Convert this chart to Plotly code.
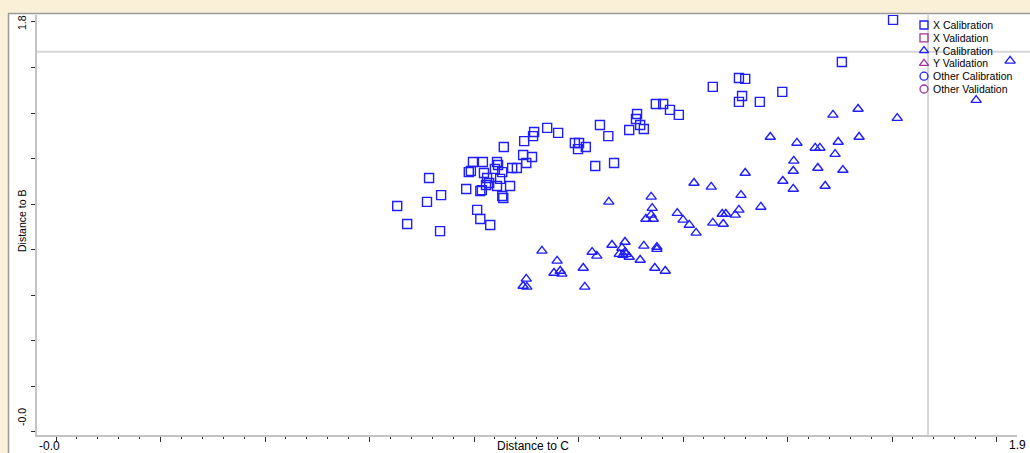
import plotly.graph_objects as go

# ---------------- data ----------------
x_cal_x = [0.940, 0.961, 0.915, 0.913, 0.896, 0.857, 0.894, 0.911, 0.900, 0.798,
           0.817, 0.844, 0.846, 0.840, 0.854, 0.873, 0.882, 0.790, 0.794, 0.819,
           0.825, 0.850, 0.829, 0.823, 0.844, 0.869, 0.785, 0.815, 0.812, 0.854,
           0.856, 0.714, 0.737, 0.710, 0.653, 0.806, 0.812, 0.831, 0.672, 0.735,
           1.602, 1.504, 1.307, 1.319, 1.257, 1.390, 1.313, 1.307, 1.347, 1.148,
           1.162, 1.175, 1.192, 1.112, 1.110, 1.041, 1.057, 1.097, 1.118, 1.125,
           0.993, 1.001, 1.014, 0.999, 1.032, 1.068]
x_cal_y = [1.335, 1.313, 1.317, 1.299, 1.277, 1.251, 1.216, 1.207, 1.181, 1.185,
           1.185, 1.185, 1.172, 1.155, 1.141, 1.159, 1.159, 1.141, 1.146, 1.137,
           1.115, 1.111, 1.093, 1.084, 1.080, 1.080, 1.067, 1.062, 1.058, 1.036,
           1.027, 1.115, 1.040, 1.010, 0.992, 0.975, 0.935, 0.909, 0.913, 0.882,
           1.809, 1.624, 1.554, 1.550, 1.515, 1.493, 1.475, 1.449, 1.449, 1.440,
           1.440, 1.414, 1.392, 1.396, 1.374, 1.348, 1.299, 1.326, 1.348, 1.330,
           1.269, 1.269, 1.251, 1.242, 1.168, 1.181]

y_cal_x = [1.826, 1.761, 1.535, 1.487, 1.610, 1.367, 1.537, 1.418, 1.497, 1.453,
           1.462, 1.491, 1.412, 1.411, 1.458, 1.506, 1.319, 1.391, 1.411, 1.472,
           1.221, 1.254, 1.311, 1.349, 1.307, 1.300, 1.275, 1.282, 1.257, 1.277,
           1.212, 1.225, 1.139, 1.058, 1.141, 1.139, 1.129, 1.143, 1.189, 1.200,
           0.930, 0.959, 0.953, 0.965, 0.968, 1.009, 0.900, 0.894, 0.901, 1.012,
           1.026, 1.035, 1.064, 1.089, 1.083, 1.078, 1.085, 1.091, 1.097, 1.089,
           1.118, 1.125, 1.150, 1.150, 1.146, 1.166]
y_cal_y = [1.629, 1.457, 1.418, 1.392, 1.378, 1.295, 1.295, 1.269, 1.273, 1.247,
           1.247, 1.220, 1.190, 1.146, 1.159, 1.150, 1.137, 1.102, 1.067, 1.080,
           1.093, 1.076, 1.040, 0.988, 0.975, 0.953, 0.957, 0.957, 0.918, 0.913,
           0.909, 0.874, 1.032, 1.010, 0.983, 0.953, 0.935, 0.935, 0.961, 0.931,
           0.795, 0.751, 0.698, 0.707, 0.694, 0.720, 0.672, 0.641, 0.637, 0.637,
           0.790, 0.773, 0.821, 0.834, 0.808, 0.781, 0.777, 0.781, 0.768, 0.790,
           0.755, 0.817, 0.812, 0.803, 0.720, 0.707]

# empty groups (present in legend only)
x_val_x, x_val_y = [], []
y_val_x, y_val_y = [], []
o_cal_x, o_cal_y = [], []
o_val_x, o_val_y = [], []

critical_limit = 1.669

x_title = "Distance to C"
y_title = "Distance to B"
x_end_labels = ["-0.0", "1.9"]
y_end_labels = ["-0.0", "1.8"]
legend_labels = ["X Calibration", "X Validation", "Y Calibration",
                 "Y Validation", "Other Calibration", "Other Validation"]

# ---------------- style ----------------
BLUE = "rgb(30,30,255)"
PURPLE = "rgb(160,50,160)"
BEIGE = "#faf0d8"
legend_symbols = ["square-open", "square-open", "triangle-up-open",
                  "triangle-up-open", "circle-open", "circle-open"]
legend_colors = [BLUE, PURPLE, BLUE, PURPLE, BLUE, PURPLE]
marker_sizes = [9, 9, 9, 9, 8, 8]

W, H = 1030, 453
ML, MR, MT, MB = 37, 13, 15, 18
PW, PH = W - ML - MR, H - MT - MB
XR = [-0.0364, 1.8392]
YR = [-0.0132, 1.8306]


def px2paper_x(px):
    return (px - ML) / PW


def py2paper_y(py):
    return (H - MB - py) / PH


fig = go.Figure()

groups = [
    (x_cal_x, x_cal_y, 0), (x_val_x, x_val_y, 1),
    (y_cal_x, y_cal_y, 2), (y_val_x, y_val_y, 3),
    (o_cal_x, o_cal_y, 4), (o_val_x, o_val_y, 5),
]
for gx, gy, i in groups:
    if not gx:
        continue
    fig.add_trace(go.Scatter(
        x=gx, y=gy, mode="markers", name=legend_labels[i], showlegend=False,
        marker=dict(symbol=legend_symbols[i], size=marker_sizes[i], color=legend_colors[i],
                    line=dict(width=1.4)),
        hoverinfo="x+y",
    ))

# manual legend (compact rows like the original)
leg_px, leg_py0, leg_row = 924, 25, 12.8
for i, lab in enumerate(legend_labels):
    fig.add_trace(go.Scatter(
        x=[leg_px], y=[leg_py0 + i * leg_row], xaxis="x2", yaxis="y2",
        mode="markers", showlegend=False, hoverinfo="skip", cliponaxis=False,
        marker=dict(symbol=legend_symbols[i], size=8, color=legend_colors[i],
                    line=dict(width=1.3)),
    ))

annotations = []
for i, lab in enumerate(legend_labels):
    annotations.append(dict(
        x=px2paper_x(931), y=py2paper_y(leg_py0 + i * leg_row), xref="paper", yref="paper",
        text=lab, showarrow=False, xanchor="left", yanchor="middle",
        font=dict(family="Liberation Sans, Arial", size=10.5, color="#000000"),
    ))

lab_font = dict(family="Liberation Sans, Arial", size=12, color="#000000")
ylab_font = dict(family="Liberation Sans, Arial", size=10.5, color="#000000")
annotations += [
    dict(x=px2paper_x(533), y=py2paper_y(446), xref="paper", yref="paper", text=x_title,
         showarrow=False, xanchor="center", yanchor="middle", font=lab_font),
    dict(x=px2paper_x(49), y=py2paper_y(446), xref="paper", yref="paper", text=x_end_labels[0],
         showarrow=False, xanchor="center", yanchor="middle", font=lab_font),
    dict(x=px2paper_x(1018), y=py2paper_y(445), xref="paper", yref="paper", text=x_end_labels[1],
         showarrow=False, xanchor="center", yanchor="middle", font=lab_font),
    dict(x=px2paper_x(22), y=py2paper_y(221), xref="paper", yref="paper", text=y_title,
         showarrow=False, xanchor="center", yanchor="middle", textangle=-90, font=ylab_font),
    dict(x=px2paper_x(22), y=py2paper_y(417), xref="paper", yref="paper", text=y_end_labels[0],
         showarrow=False, xanchor="center", yanchor="middle", textangle=-90, font=ylab_font),
    dict(x=px2paper_x(22), y=py2paper_y(23), xref="paper", yref="paper", text=y_end_labels[1],
         showarrow=False, xanchor="center", yanchor="middle", textangle=-90, font=ylab_font),
]

shapes = [
    # white panel inside beige window frame
    dict(type="rect", xref="paper", yref="paper", layer="below",
         x0=px2paper_x(8), x1=px2paper_x(W + 2), y0=py2paper_y(H + 2), y1=py2paper_y(14),
         fillcolor="#ffffff", line=dict(width=0)),
    dict(type="line", xref="paper", yref="paper", layer="below",
         x0=px2paper_x(8), x1=px2paper_x(W + 2), y0=py2paper_y(13.5), y1=py2paper_y(13.5),
         line=dict(color="#9a9a9a", width=1.5)),
    dict(type="line", xref="paper", yref="paper", layer="below",
         x0=px2paper_x(8.5), x1=px2paper_x(8.5), y0=py2paper_y(H + 2), y1=py2paper_y(13.5),
         line=dict(color="#9a9a9a", width=1.5)),
    # critical limits
    dict(type="line", xref="x", yref="paper", layer="below",
         x0=critical_limit, x1=critical_limit, y0=0, y1=1,
         line=dict(color="#d6d6d6", width=2)),
    dict(type="line", xref="paper", yref="y", layer="below",
         x0=0, x1=px2paper_x(W + 2), y0=critical_limit, y1=critical_limit,
         line=dict(color="#d6d6d6", width=2)),
]

fig.update_layout(
    width=W, height=H,
    margin=dict(l=ML, r=MR, t=MT, b=MB, pad=0),
    paper_bgcolor=BEIGE,
    plot_bgcolor="#ffffff",
    showlegend=False,
    annotations=annotations,
    shapes=shapes,
    xaxis=dict(range=XR, showgrid=False, zeroline=False, showline=True,
               linecolor="#c4c4c4", linewidth=2, ticks="outside", ticklen=5,
               tickcolor="#303030", tickwidth=1, tick0=0, dtick=0.2,
               showticklabels=False, fixedrange=True,
               minor=dict(dtick=0.04, tick0=0, ticks="outside", ticklen=2,
                          tickcolor="#303030", tickwidth=1, showgrid=False)),
    yaxis=dict(range=YR, showgrid=False, zeroline=False, showline=True,
               linecolor="#c4c4c4", linewidth=2, ticks="outside", ticklen=4,
               tickcolor="#303030", tickwidth=1, tick0=0, dtick=0.2,
               showticklabels=False, fixedrange=True),
    xaxis2=dict(range=[ML, W - MR], overlaying="x", visible=False, fixedrange=True),
    yaxis2=dict(range=[H - MB, MT], overlaying="y", visible=False, fixedrange=True),
)

fig.write_html(
    "out.html",
    config={"displayModeBar": False},
    post_script=("document.body.style.margin='0';"
                 "document.body.style.padding='0';"
                 "document.body.style.overflow='hidden';"
                 "document.body.style.background='" + BEIGE + "';"),
)
